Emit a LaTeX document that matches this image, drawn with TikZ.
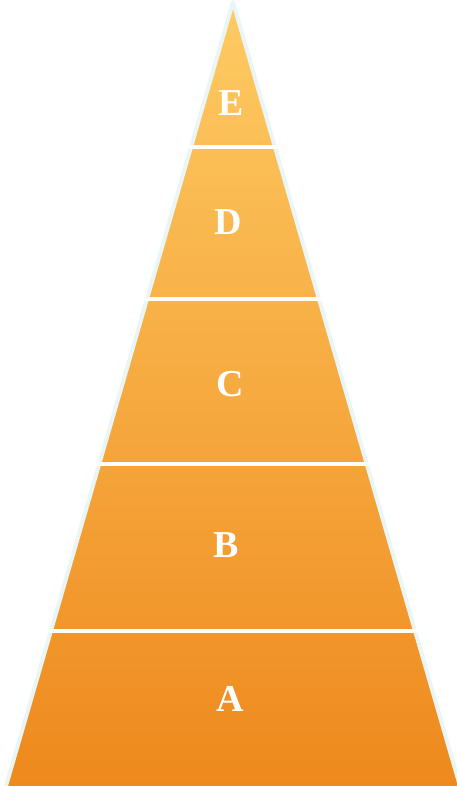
\documentclass[tikz,border=0pt]{standalone}
\usepackage{fontspec}
\setmainfont{Liberation Serif}
\usetikzlibrary{calc}
\definecolor{pyrtop}{HTML}{FECB63}
\definecolor{pyrbot}{HTML}{EE891D}
\definecolor{rim}{HTML}{EAF6F6}
\begin{document}
\begin{tikzpicture}[x=1pt,y=-1pt,
  lbl/.style={text=white,font=\fontsize{38}{42}\selectfont\bfseries},
  sep/.style={white,line width=4pt}]
\useasboundingbox(0,0)rectangle(456,786);
\coordinate(top)at(233,2);\coordinate(bl)at(6,786);\coordinate(br)at(460,786);
\shade[top color=pyrtop,bottom color=pyrbot](top)--(bl)--(br)--cycle;
\draw[rim,line width=4pt,line join=round](bl)--(top)--(br);
\foreach\y in{147,299,464,631}
  \draw[sep]($(top)!{(\y-2)/784}!(bl)+(-2,0)$)--($(top)!{(\y-2)/784}!(br)+(2,0)$);
\foreach\n/\x/\y in{E/231/103,D/228/222,C/230/384,B/226/545,A/230/699}
  \node[lbl](l\n)at(\x,\y){\n};
\end{tikzpicture}
\end{document}
